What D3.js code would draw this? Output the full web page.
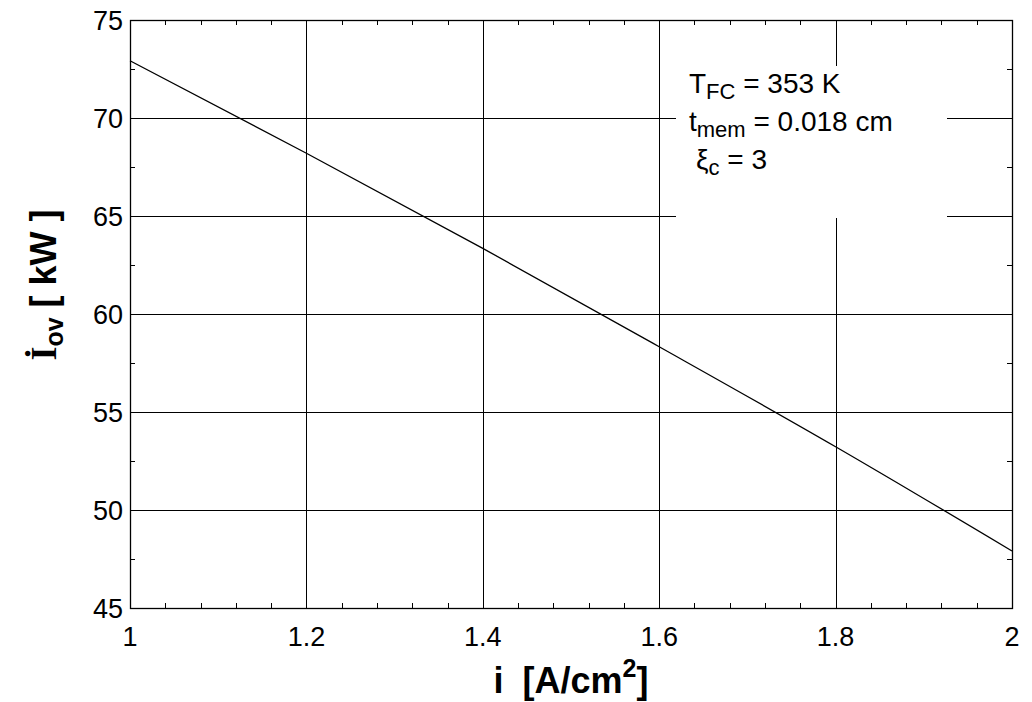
<!DOCTYPE html>
<html>
<head>
<meta charset="utf-8">
<script src="https://cdn.jsdelivr.net/npm/d3@7"></script>
<style>
  body { margin: 0; background: #fff; }
  svg text { font-family: Arial, "Liberation Sans", sans-serif; fill: #000; }
</style>
</head>
<body>
<svg id="chart" width="1032" height="702"></svg>
<script>
// Current density [A/cm²] and overvoltage irreversibility rate [kW]
const currentDensity = [1.0, 1.2, 1.4, 1.6, 1.8, 2.0];
const irreversibility = [72.92, 68.20, 63.35, 58.33, 53.23, 47.91];
const xTicks = [1, 1.2, 1.4, 1.6, 1.8, 2];
const yTicks = [45, 50, 55, 60, 65, 70, 75];
const legendLines = [
  { main: "T", sub: "FC", rest: " = 353 K", indent: 0 },
  { main: "t", sub: "mem", rest: " = 0.018 cm", indent: 0 },
  { main: "ξ", sub: "c", rest: " = 3", indent: 7 }
];

const svg = d3.select("#chart");
const margin = { left: 130, top: 20, right: 1012, bottom: 608 };

const x = d3.scaleLinear().domain([1, 2]).range([margin.left, margin.right]);
const y = d3.scaleLinear().domain([45, 75]).range([margin.bottom, margin.top]);

const g = svg.append("g");

// grid lines
g.selectAll("line.vgrid").data(xTicks.slice(1, -1)).join("line")
  .attr("x1", d => Math.round(x(d)) + 0.5).attr("x2", d => Math.round(x(d)) + 0.5)
  .attr("y1", margin.top).attr("y2", margin.bottom)
  .attr("stroke", "#000").attr("stroke-width", 1);
g.selectAll("line.hgrid").data(yTicks.slice(1, -1)).join("line")
  .attr("y1", d => Math.round(y(d)) + 0.5).attr("y2", d => Math.round(y(d)) + 0.5)
  .attr("x1", margin.left).attr("x2", margin.right)
  .attr("stroke", "#000").attr("stroke-width", 1);

// minor ticks (inside)
const xMinor = d3.range(1, 2.0001, 0.04).filter(v => Math.abs((v * 5) - Math.round(v * 5)) > 1e-6);
const yMinor = d3.range(47.5, 75, 5);
g.selectAll("line.xmb").data(xMinor).join("line")
  .attr("x1", d => Math.round(x(d)) + 0.5).attr("x2", d => Math.round(x(d)) + 0.5)
  .attr("y1", margin.bottom).attr("y2", margin.bottom - 5).attr("stroke", "#000");
g.selectAll("line.xmt").data(xMinor).join("line")
  .attr("x1", d => Math.round(x(d)) + 0.5).attr("x2", d => Math.round(x(d)) + 0.5)
  .attr("y1", margin.top).attr("y2", margin.top + 5).attr("stroke", "#000");
g.selectAll("line.yml").data(yMinor).join("line")
  .attr("y1", d => Math.round(y(d)) + 0.5).attr("y2", d => Math.round(y(d)) + 0.5)
  .attr("x1", margin.left).attr("x2", margin.left + 5).attr("stroke", "#000");
g.selectAll("line.ymr").data(yMinor).join("line")
  .attr("y1", d => Math.round(y(d)) + 0.5).attr("y2", d => Math.round(y(d)) + 0.5)
  .attr("x1", margin.right).attr("x2", margin.right - 5).attr("stroke", "#000");

// data curve
const line = d3.line()
  .x((d, i) => x(currentDensity[i]))
  .y(d => y(d))
  .curve(d3.curveMonotoneX);
g.append("path").datum(irreversibility)
  .attr("d", line).attr("fill", "none")
  .attr("stroke", "#000").attr("stroke-width", 1.3);

// legend box blanks out the grid behind it
const box = { x: 676, y: 66, w: 271, h: 152 };
g.append("rect").attr("x", box.x).attr("y", box.y).attr("width", box.w).attr("height", box.h)
  .attr("fill", "#fff");

const legend = g.append("g");
legendLines.forEach((l, i) => {
  const t = legend.append("text")
    .attr("x", 689 + l.indent).attr("y", 93 + i * 38)
    .attr("font-size", 28);
  t.append("tspan").text(l.main);
  t.append("tspan").attr("font-size", 22).attr("dy", 6).text(l.sub);
  t.append("tspan").attr("dy", -6).text(l.rest);
});

// frame
g.append("rect")
  .attr("x", margin.left + 0.5).attr("y", margin.top + 0.5)
  .attr("width", margin.right - margin.left).attr("height", margin.bottom - margin.top)
  .attr("fill", "none").attr("stroke", "#000").attr("stroke-width", 1.3);

// tick labels
g.selectAll("text.xt").data(xTicks).join("text")
  .attr("x", d => x(d)).attr("y", margin.bottom + 38)
  .attr("text-anchor", "middle").attr("font-size", 27)
  .text(d => d3.format("~g")(d));
g.selectAll("text.yt").data(yTicks).join("text")
  .attr("x", margin.left - 7).attr("y", d => y(d) + 10)
  .attr("text-anchor", "end").attr("font-size", 27)
  .text(d => d);

// x axis title
const xt = svg.append("text")
  .attr("x", 571).attr("y", 693)
  .attr("text-anchor", "middle").attr("font-size", 36).attr("font-weight", "bold");
xt.append("tspan").text("i");
xt.append("tspan").attr("dx", 19).text("[A/cm");
xt.append("tspan").attr("font-size", 25).attr("dy", -16).text("2");
xt.append("tspan").attr("dy", 16).text("]");

// y axis title
const yt = svg.append("text")
  .attr("transform", "translate(56,285) rotate(-90)")
  .attr("text-anchor", "middle").attr("font-size", 36).attr("font-weight", "bold");
yt.append("tspan").attr("font-family", "'Liberation Serif', 'Times New Roman', serif").text("İ");
yt.append("tspan").attr("font-size", 25).attr("dy", 7).text("ov");
yt.append("tspan").attr("dy", -7).text(" [ kW ]");
</script>
</body>
</html>
